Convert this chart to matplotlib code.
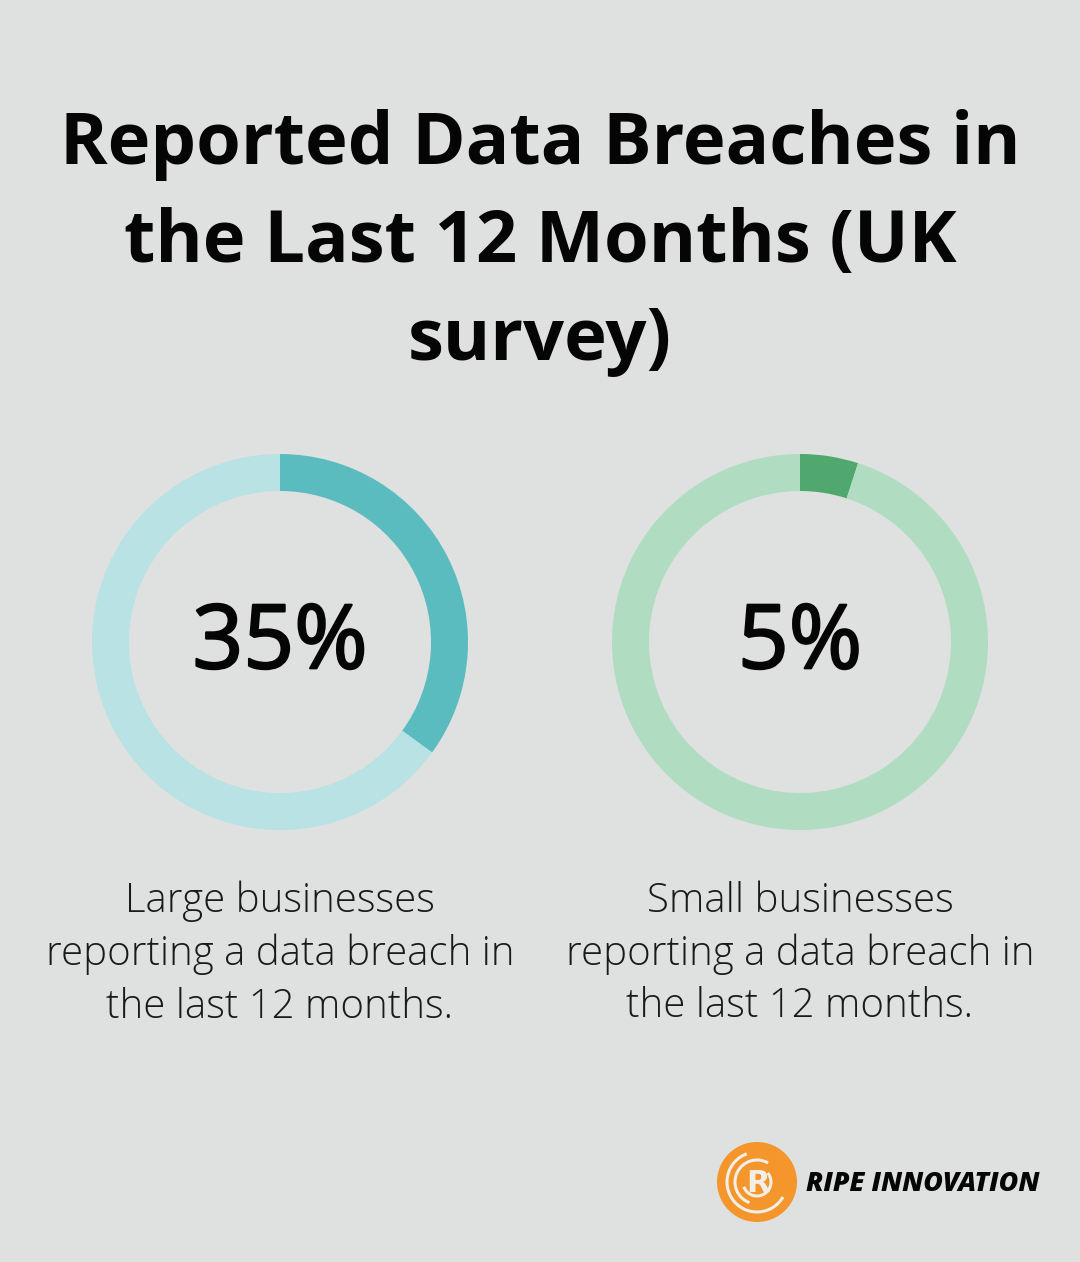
import numpy as np
import matplotlib.pyplot as plt
import matplotlib.patheffects as pe
from matplotlib.patches import Circle, Arc

# chart values
title = "Reported Data Breaches in\nthe Last 12 Months (UK\nsurvey)"
shares = [35, 5]
labels = ["Large businesses\nreporting a data breach in\nthe last 12 months.",
          "Small businesses\nreporting a data breach in\nthe last 12 months."]
dark_colors = ["#5bbcbf", "#50a86f"]
light_colors = ["#b8e2e3", "#b0dcc1"]

W, H = 1080, 1262
bg = "#dfe1e0"

fig = plt.figure(figsize=(W / 100, H / 100), dpi=100, facecolor=bg)
ax = fig.add_axes([0, 0, 1, 1])
ax.set_facecolor(bg)

centers_x = [280, 800]
cy = H - 642
for i, val in enumerate(shares):
    ax.pie([val, 100 - val], colors=[dark_colors[i], light_colors[i]],
           startangle=90, counterclock=False, center=(centers_x[i], cy),
           radius=188, wedgeprops=dict(width=37, linewidth=0), frame=True)
    ax.text(centers_x[i], cy - 3, f"{val}%", ha="center", va="center",
            fontsize=64, family="Open Sans", color="#050505",
            path_effects=[pe.withStroke(linewidth=1.6, foreground="#050505")])
    ax.text(centers_x[i], H - 954, labels[i], ha="center", va="center",
            fontsize=28.9, family="Open Sans", fontweight="light",
            color="#1a1a1a", linespacing=1.37)

ax.text(W / 2, H - 243, title, ha="center", va="center", fontsize=52,
        family="Open Sans", fontweight="bold", color="#050505",
        linespacing=1.47)

# logo
lx, ly = 757, H - 1182
orange = "#f4962b"
ax.add_patch(Circle((lx, ly), 40, color=orange, lw=0))
for r, t1, t2 in [(30, 110, 330), (22, 60, 250), (14, 200, 400)]:
    ax.add_patch(Arc((lx, ly), 2 * r, 2 * r, theta1=t1, theta2=t2,
                     color="#f2efe9", lw=2.2))
ax.text(lx + 1, ly - 1, "R", ha="center", va="center", fontsize=22,
        family="DejaVu Sans", fontweight="bold", color="#f2efe9")
ax.text(806, ly - 2, "RIPE INNOVATION", ha="left", va="center", fontsize=19.3,
        family="Open Sans", fontweight="extra bold", style="italic",
        color="#050505")

ax.set_xlim(0, W)
ax.set_ylim(0, H)
ax.set_aspect("auto")
ax.axis("off")

fig.savefig("out.png", dpi=100, facecolor=bg)
